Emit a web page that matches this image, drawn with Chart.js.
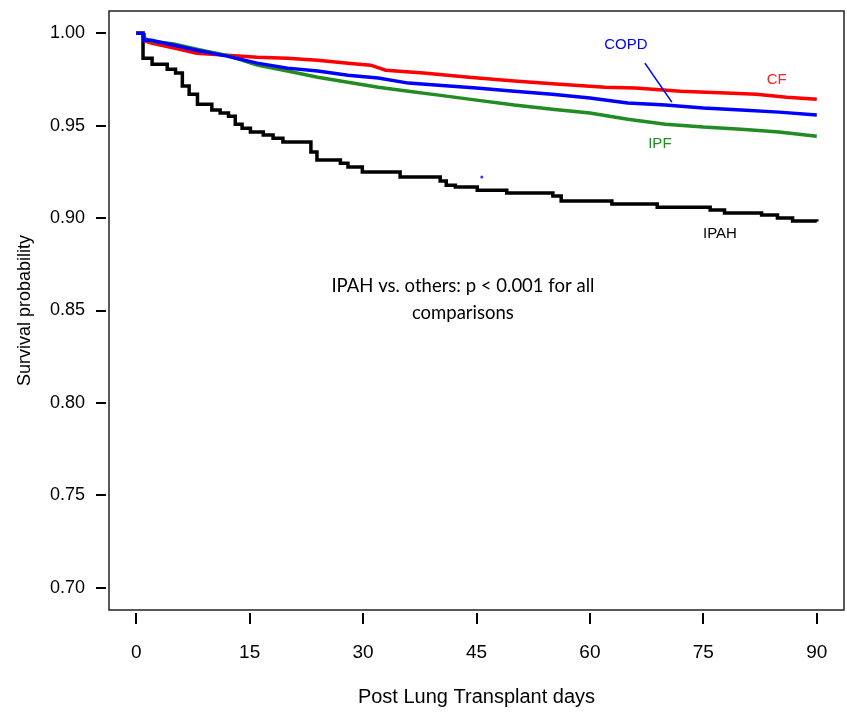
<!DOCTYPE html>
<html><head><meta charset="utf-8">
<script src="https://cdn.jsdelivr.net/npm/chart.js@4/dist/chart.umd.min.js"></script>
<style>html,body{margin:0;padding:0;background:#fff}#wrap{width:847px;height:712px;position:relative}</style>
</head><body><div id="wrap"><canvas id="c" width="847" height="712"></canvas></div>
<script>
const xTicks = [0, 15, 30, 45, 60, 75, 90];
const yTicks = [0.70, 0.75, 0.80, 0.85, 0.90, 0.95, 1.00];

const ipahDays = [0, 0.9, 2.1, 4.1, 5.2, 6.1, 7.0, 8.1, 10.0, 11.1, 12.2, 13.1, 14.0, 15.1, 16.8, 18.1, 19.4, 23.1, 23.9, 27.0, 28.0, 29.9, 34.9, 40.2, 41.0, 42.2, 45.1, 49.0, 55.1, 56.2, 62.9, 68.9, 75.9, 77.8, 82.7, 84.8, 86.8, 90];
const ipahSurv = [1.0, 0.9865, 0.9832, 0.9805, 0.9784, 0.9714, 0.967, 0.9616, 0.9584, 0.9568, 0.9551, 0.9508, 0.9486, 0.9465, 0.9449, 0.9432, 0.9411, 0.9357, 0.9314, 0.9297, 0.9276, 0.9249, 0.9222, 0.92, 0.9178, 0.9168, 0.9151, 0.9135, 0.9119, 0.9092, 0.9076, 0.9059, 0.9043, 0.9027, 0.9016, 0.9, 0.8984, 0.8981];

const cfDays = [0, 0.9, 1, 2, 5, 8, 12, 16, 20, 24, 28, 31, 33, 38, 44, 50, 56, 62, 66, 72, 78, 82, 86, 90];
const cfSurv = [1, 1, 0.996, 0.9946, 0.9919, 0.9892, 0.9881, 0.987, 0.9865, 0.9854, 0.9838, 0.9827, 0.98, 0.9784, 0.9762, 0.9741, 0.9724, 0.9708, 0.9703, 0.9686, 0.9676, 0.967, 0.9654, 0.9643];

const copdDays = [0, 0.9, 1, 2, 5, 8, 12, 16, 20, 24, 28, 32, 36, 40, 45, 50, 55, 60, 65, 70, 75, 80, 85, 90];
const copdSurv = [1, 1, 0.9962, 0.9962, 0.9935, 0.9908, 0.9876, 0.9838, 0.9811, 0.9795, 0.9773, 0.9757, 0.973, 0.9719, 0.9703, 0.9686, 0.967, 0.9649, 0.9622, 0.9611, 0.9595, 0.9584, 0.9573, 0.9557];

const ipfDays = [0, 0.9, 1, 2, 5, 8, 12, 16, 20, 24, 28, 32, 36, 40, 45, 50, 55, 60, 65, 70, 75, 80, 85, 90];
const ipfSurv = [1, 1, 0.9973, 0.9957, 0.9941, 0.9914, 0.988, 0.9827, 0.9795, 0.9762, 0.9735, 0.9708, 0.9686, 0.9665, 0.9638, 0.9611, 0.9589, 0.9568, 0.9535, 0.9508, 0.9492, 0.9481, 0.9465, 0.9443];

const toPts = (d, s) => d.map((x, i) => ({x: x, y: s[i]}));

const boxAndTicks = {
  id: 'boxAndTicks',
  afterDatasetsDraw(chart) {
    const {ctx, chartArea: a, scales: {x, y}} = chart;
    ctx.save();
    ctx.strokeStyle = '#222';
    ctx.lineWidth = 1.5;
    ctx.strokeRect(a.left, a.top, a.right - a.left, a.bottom - a.top);
    ctx.strokeStyle = '#000';
    ctx.lineWidth = 2;
    ctx.beginPath();
    yTicks.forEach(v => { const p = Math.round(y.getPixelForValue(v)); ctx.moveTo(a.left - 13, p); ctx.lineTo(a.left - 3, p); });
    xTicks.forEach(v => { const p = Math.round(x.getPixelForValue(v)); ctx.moveTo(p, a.bottom + 3); ctx.lineTo(p, a.bottom + 14); });
    ctx.stroke();
    ctx.restore();
  }
};

const notes = {
  id: 'notes',
  afterDatasetsDraw(chart) {
    const {ctx, scales: {x, y}} = chart;
    const X = v => x.getPixelForValue(v), Y = v => y.getPixelForValue(v);
    ctx.save();
    ctx.textAlign = 'center';
    ctx.textBaseline = 'middle';
    ctx.font = '15px "Liberation Sans", Arial, sans-serif';
    ctx.fillStyle = '#0000ff'; ctx.fillText('COPD', X(64.75), Y(0.9935));
    ctx.fillStyle = '#ff2020'; ctx.fillText('CF', X(84.7), Y(0.9746));
    ctx.fillStyle = '#228b22'; ctx.fillText('IPF', X(69.25), Y(0.94));
    ctx.fillStyle = '#000'; ctx.fillText('IPAH', X(77.2), Y(0.8914));
    ctx.strokeStyle = '#0000ff'; ctx.lineWidth = 1.6;
    ctx.beginPath(); ctx.moveTo(X(67.27), Y(0.9838)); ctx.lineTo(X(70.83), Y(0.9627)); ctx.stroke();
    ctx.fillStyle = '#3030ff';
    ctx.beginPath(); ctx.arc(X(45.7), Y(0.9222), 1.5, 0, Math.PI * 2); ctx.fill();
    ctx.fillStyle = '#000';
    ctx.font = '18.5px Lato, "Open Sans", sans-serif';
    ctx.fillText('IPAH vs. others: p < 0.001 for all', X(43.2), Y(0.8632));
    ctx.fillText('comparisons', X(43.2), Y(0.8486));
    ctx.restore();
  }
};

const zeroPad = s => { s.paddingTop = 0; s.paddingBottom = 0; s.paddingLeft = 0; s.paddingRight = 0; };
const sans = '"Liberation Sans", Arial, sans-serif';

new Chart(document.getElementById('c'), {
  type: 'line',
  data: {
    datasets: [
      {label: 'COPD', data: toPts(copdDays, copdSurv), borderColor: '#0000ff', borderWidth: 3.5, pointRadius: 0, fill: false, order: 0},
      {label: 'CF', data: toPts(cfDays, cfSurv), borderColor: '#ff0000', borderWidth: 3.5, pointRadius: 0, fill: false, order: 2},
      {label: 'IPF', data: toPts(ipfDays, ipfSurv), borderColor: '#228b22', borderWidth: 3.5, pointRadius: 0, fill: false, order: 1},
      {label: 'IPAH', data: toPts(ipahDays, ipahSurv), borderColor: '#000000', borderWidth: 3.5, pointRadius: 0, fill: false, stepped: 'before', order: 3}
    ]
  },
  options: {
    responsive: false,
    devicePixelRatio: 1,
    animation: false,
    layout: {padding: {top: 11, right: 3, left: 0, bottom: 0}},
    plugins: {legend: {display: false}, tooltip: {enabled: false}},
    scales: {
      x: {
        type: 'linear', min: -3.6, max: 93.6,
        afterBuildTicks: s => { s.ticks = xTicks.map(v => ({value: v})); },
        afterFit: s => { s.height = 102; zeroPad(s); },
        grid: {display: false, drawTicks: false},
        border: {display: false},
        ticks: {color: '#000', font: {family: sans, size: 19}, padding: 31, maxRotation: 0, autoSkip: false},
        title: {display: true, text: 'Post Lung Transplant days', color: '#000', font: {family: sans, size: 20}, padding: {top: 0, bottom: 3}}
      },
      y: {
        type: 'linear', min: 0.688, max: 1.012,
        afterBuildTicks: s => { s.ticks = yTicks.map(v => ({value: v})); },
        afterFit: s => { s.width = 109; zeroPad(s); },
        grid: {display: false, drawTicks: false},
        border: {display: false},
        ticks: {color: '#000', font: {family: sans, size: 18}, padding: 24, callback: v => v.toFixed(2), autoSkip: false},
        title: {display: true, text: 'Survival probability', color: '#000', font: {family: sans, size: 18}, padding: {top: 14, bottom: 0}}
      }
    }
  },
  plugins: [boxAndTicks, notes]
});
</script>
</body></html>
